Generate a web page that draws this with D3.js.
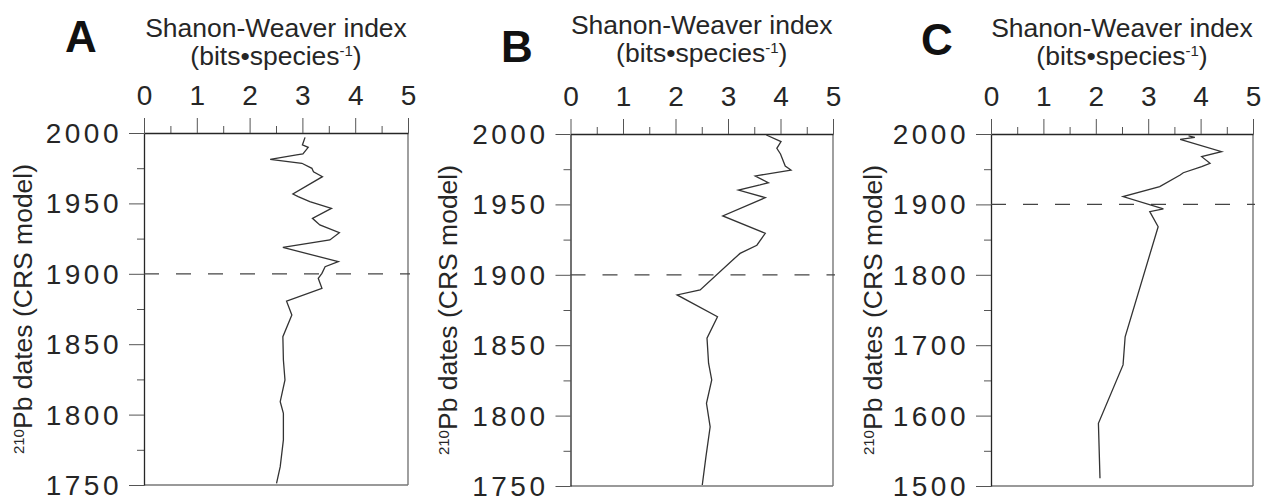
<!DOCTYPE html>
<html>
<head>
<meta charset="utf-8">
<script src="https://cdn.jsdelivr.net/npm/d3@7"></script>
<style>
  html, body { margin: 0; padding: 0; background: #fff; }
  svg { display: block; font-family: "Liberation Sans", Arial, Helvetica, sans-serif; }
</style>
</head>
<body>
<svg id="chart" width="1266" height="501"></svg>
<script>
// ---- Data ----
const panelLetters = ["A", "B", "C"];
const xTicks = [0, 1, 2, 3, 4, 5];
const xMinorTicks = [0.5, 1.5, 2.5, 3.5, 4.5];
const yTicksAB = [2000, 1950, 1900, 1850, 1800, 1750];
const yMinorAB = [1975, 1925, 1875, 1825, 1775];
const yTicksC = [2000, 1900, 1800, 1700, 1600, 1500];
const yMinorC = [1950, 1850, 1750, 1650, 1550];
const markerYear = 1900;

const yearsA = [1996.9, 1991.5, 1989.8, 1985.1, 1984.4, 1981.3, 1978.5, 1974.9, 1972.5, 1969, 1956.7, 1954.8, 1951.2, 1946.5, 1939.4, 1934.7, 1929.2, 1924, 1918.8, 1908.6, 1905, 1900.3, 1896.8, 1889.7, 1880.5, 1870.7, 1855.3, 1838.8, 1824.6, 1809.2, 1800.9, 1782, 1763, 1751.2];
const valuesA = [3.05, 3.00, 3.11, 3.01, 2.89, 2.39, 2.99, 3.18, 3.21, 3.38, 2.82, 2.92, 3.14, 3.55, 3.19, 3.33, 3.70, 3.52, 2.63, 3.68, 3.43, 3.37, 3.30, 3.37, 2.70, 2.80, 2.63, 2.64, 2.67, 2.58, 2.64, 2.64, 2.58, 2.51];

const yearsB = [1999.3, 1994.6, 1989.8, 1985.8, 1977.3, 1974.4, 1970.2, 1965.4, 1963.8, 1960.2, 1954.8, 1941.8, 1929.5, 1921, 1915.2, 1910.5, 1889.2, 1885.7, 1870.2, 1855, 1837.2, 1825.3, 1808.7, 1792, 1770.8, 1750.7];
const valuesB = [3.73, 4.01, 3.93, 4.00, 4.09, 4.20, 3.52, 3.77, 3.61, 3.20, 3.71, 2.90, 3.71, 3.55, 3.23, 3.09, 2.47, 2.03, 2.80, 2.60, 2.63, 2.69, 2.59, 2.66, 2.58, 2.51];

const yearsC = [1997.2, 1995.3, 1992.4, 1974.9, 1967.8, 1958.3, 1953.6, 1945, 1941.8, 1925.2, 1911, 1893.5, 1889.7, 1868.3, 1712, 1672, 1589, 1511];
const valuesC = [3.77, 3.89, 3.61, 4.40, 4.02, 4.18, 4.02, 3.67, 3.61, 3.22, 2.52, 3.29, 3.03, 3.19, 2.56, 2.52, 2.05, 2.08];

// ---- Layout ----
const panels = [
  { letter: panelLetters[0], years: yearsA, values: valuesA, yDomain: [2000, 1750], yTicks: yTicksAB, yMinor: yMinorAB,
    x0: 144, x1: 408, top: 133, bottom: 485, letterX: 81, letterY: 52, titleY: 37, yTitleX: 32 },
  { letter: panelLetters[1], years: yearsB, values: valuesB, yDomain: [2000, 1750], yTicks: yTicksAB, yMinor: yMinorAB,
    x0: 570.5, x1: 833, top: 134, bottom: 486, letterX: 517, letterY: 62, titleY: 34, yTitleX: 457 },
  { letter: panelLetters[2], years: yearsC, values: valuesC, yDomain: [2000, 1500], yTicks: yTicksC, yMinor: yMinorC,
    x0: 991, x1: 1253, top: 134, bottom: 486, letterX: 937, letterY: 55, titleY: 37, yTitleX: 882 }
];

const svg = d3.select("#chart");
const ink = "#262626";

panels.forEach(p => {
  const x = d3.scaleLinear().domain([0, 5]).range([p.x0, p.x1]);
  const y = d3.scaleLinear().domain(p.yDomain).range([p.top, p.bottom]);
  const g = svg.append("g");

  // frame (right & bottom)
  g.append("line").attr("x1", p.x1).attr("x2", p.x1).attr("y1", p.top).attr("y2", p.bottom)
    .attr("stroke", "#777").attr("stroke-width", 1.4);
  g.append("line").attr("x1", p.x0).attr("x2", p.x1).attr("y1", p.bottom).attr("y2", p.bottom)
    .attr("stroke", "#777").attr("stroke-width", 1.4);

  // top axis: minor then major
  g.append("g").attr("transform", `translate(0,${p.top})`)
    .call(d3.axisTop(x).tickValues(xMinorTicks).tickSize(7).tickSizeOuter(0).tickFormat(""))
    .call(a => a.select(".domain").remove())
    .call(a => a.selectAll("line").attr("stroke", "#555"));
  const topAx = g.append("g").attr("transform", `translate(0,${p.top})`)
    .call(d3.axisTop(x).tickValues(xTicks).tickSize(15).tickSizeOuter(0).tickFormat(d3.format("d")));
  topAx.select(".domain").attr("stroke", ink).attr("stroke-width", 1.3);
  topAx.selectAll("line").attr("stroke", "#555");
  topAx.selectAll("text").attr("y", -28).attr("dy", 0).attr("fill", ink)
    .attr("font-size", 28).attr("font-family", "Liberation Sans, Arial, sans-serif");

  // left axis: minor then major
  g.append("g").attr("transform", `translate(${p.x0},0)`)
    .call(d3.axisLeft(y).tickValues(p.yMinor).tickSize(7).tickSizeOuter(0).tickFormat(""))
    .call(a => a.select(".domain").remove())
    .call(a => a.selectAll("line").attr("stroke", "#555"));
  const leftAx = g.append("g").attr("transform", `translate(${p.x0},0)`)
    .call(d3.axisLeft(y).tickValues(p.yTicks).tickSize(15).tickSizeOuter(0).tickFormat(d3.format("d")));
  leftAx.select(".domain").attr("stroke", ink).attr("stroke-width", 1.3);
  leftAx.selectAll("line").attr("stroke", "#555");
  leftAx.selectAll("text").attr("x", -22).attr("dy", "0.34em").attr("fill", ink)
    .attr("font-size", 28).attr("letter-spacing", 3.5)
    .attr("font-family", "Liberation Sans, Arial, sans-serif");

  // dashed 1900 marker
  g.append("line").attr("x1", p.x0).attr("x2", p.x1 + 2)
    .attr("y1", y(markerYear)).attr("y2", y(markerYear))
    .attr("stroke", "#444").attr("stroke-width", 1.3).attr("stroke-dasharray", "15,17");

  // data line
  const pts = p.years.map((yr, i) => [yr, p.values[i]]);
  g.append("path").datum(pts)
    .attr("fill", "none").attr("stroke", "#333").attr("stroke-width", 1.3)
    .attr("stroke-linejoin", "miter")
    .attr("d", d3.line().x(d => x(d[1])).y(d => y(d[0])));

  // panel letter
  g.append("text").attr("x", p.letterX).attr("y", p.letterY).attr("text-anchor", "middle")
    .attr("font-size", 44).attr("font-weight", "bold").attr("fill", "#111").text(p.letter);

  // x title
  const cx = (p.x0 + p.x1) / 2;
  g.append("text").attr("x", cx).attr("y", p.titleY).attr("text-anchor", "middle")
    .attr("font-size", 26.5).attr("fill", ink).text("Shanon-Weaver index");
  const t2 = g.append("text").attr("x", cx).attr("y", p.titleY + 28).attr("text-anchor", "middle")
    .attr("font-size", 26.5).attr("fill", ink);
  t2.append("tspan").text("(bits\u2022species");
  t2.append("tspan").attr("font-size", 15).attr("dy", -9).text("-1");
  t2.append("tspan").attr("dy", 9).text(")");

  // y title (rotated)
  const yt = g.append("text")
    .attr("transform", `translate(${p.yTitleX},${(p.top + p.bottom) / 2}) rotate(-90)`)
    .attr("text-anchor", "middle").attr("font-size", 26.5).attr("fill", ink);
  yt.append("tspan").attr("font-size", 15).attr("dy", -8).text("210");
  yt.append("tspan").attr("dy", 8).text("Pb dates (CRS model)");
});
</script>
</body>
</html>
